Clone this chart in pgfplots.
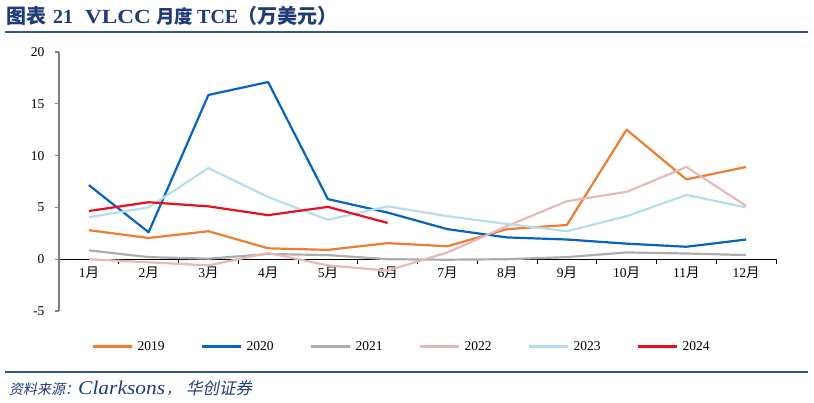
\documentclass[border=0pt]{standalone}
\usepackage{fontspec}
\usepackage{pgfplots}
\usepackage{graphicx}
\pgfplotsset{compat=1.18}
\setmainfont{Liberation Serif}
\newfontfamily\cjk{Noto Sans CJK SC}
\newfontfamily\cjkit{Noto Sans CJK SC}[FakeSlant=0.2]

\definecolor{c2019}{HTML}{ED7D31}
\definecolor{c2020}{HTML}{0563C1}
\definecolor{c2021}{HTML}{ADADAD}
\definecolor{c2022}{HTML}{E6B9B8}
\definecolor{c2023}{HTML}{B7DEE8}
\definecolor{c2024}{HTML}{E8101E}
\definecolor{navy}{HTML}{1F3C78}
\definecolor{rule}{HTML}{2F5597}
\definecolor{yaxis}{HTML}{7F7F7F}

\newcommand{\yue}{{\cjk 月}}

\begin{document}
\begin{tikzpicture}
\path[use as bounding box] (0,0) rectangle (814pt,403pt);

% title, pieces placed as in the reference
\begin{scope}[every node/.style={anchor=base west, inner sep=0, text=navy}]
\node[font=\fontsize{20}{22}\selectfont\bfseries\cjk] at (6pt,379.5pt) {图表};
\node[font=\fontsize{20}{22}\selectfont\bfseries] at (53pt,379.5pt) {21};
\node[font=\fontsize{20}{22}\selectfont\bfseries] at (85pt,379.5pt) {\scalebox{1.16}[1]{VLCC}};
\node[font=\fontsize{18.5}{22}\selectfont\bfseries\cjk] at (156pt,379.5pt) {月度};
\node[font=\fontsize{20}{22}\selectfont\bfseries] at (197pt,379.5pt) {TCE};
\node[font=\fontsize{20}{22}\selectfont\bfseries\cjk] at (237pt,379.5pt) {（万美元）};
% source
\node[font=\fontsize{14}{16}\selectfont\cjkit] at (9pt,8pt) {资料来源：};
\node[font=\fontsize{19.5}{21}\selectfont\itshape] at (78pt,8pt) {\scalebox{1.1}[1]{Clarksons}};
\node[font=\fontsize{14}{16}\selectfont\cjkit] at (166pt,8pt) {，};
\node[font=\fontsize{16.5}{18}\selectfont\cjkit] at (186pt,8pt) {华创证券};
\end{scope}
\draw[rule, line width=1.6pt] (5pt,371pt) -- (808pt,371pt);
\draw[rule, line width=1.6pt] (5pt,31pt) -- (808pt,31pt);

\begin{axis}[
  at={(59pt,92pt)}, anchor=south west,
  scale only axis, width=717pt, height=259pt,
  xmin=0.5, xmax=12.5, ymin=-5, ymax=20,
  axis x line*=middle, axis y line*=left,
  y axis line style={yaxis, line width=1.2pt},
  x axis line style={black, line width=0.8pt},
  hide obscured x ticks=false, hide obscured y ticks=false,
  xtick={1,...,12},
  xticklabels={1\yue,2\yue,3\yue,4\yue,5\yue,6\yue,7\yue,8\yue,9\yue,10\yue,11\yue,12\yue},
  minor xtick={1.5,2.5,...,12.5},
  xtick style={draw=none},
  minor x tick style={draw=black, line width=0.8pt},
  tick align=outside, minor tick length=5pt, major tick length=4pt,
  ytick={-5,0,5,10,15,20},
  yticklabels={-5,0,5,10,15,20},
  ytick style={draw=yaxis, line width=1.2pt},
  tick label style={font=\fontsize{13.5}{15}\selectfont},
  yticklabel style={xshift=-7pt},
  legend columns=6,
  legend style={draw=none, fill=none, at={(0.478,-0.139)}, anchor=center,
    font=\fontsize{13.5}{15}\selectfont,
    /tikz/every even column/.append style={column sep=34pt},
    /tikz/every odd column/.append style={column sep=2pt}},
  legend image code/.code={\draw[#1, line width=3pt] (0pt,0pt) -- (39pt,0pt);},
  every axis plot/.append style={line width=2.2pt, line join=round, mark=none},
]
\addplot[c2019] coordinates {(1,2.8) (2,2.05) (3,2.7) (4,1.05) (5,0.9) (6,1.55) (7,1.25) (8,2.9) (9,3.3) (10,12.5) (11,7.7) (12,8.9)};
\addplot[c2020] coordinates {(1,7.15) (2,2.6) (3,15.85) (4,17.1) (5,5.8) (6,4.5) (7,2.9) (8,2.1) (9,1.9) (10,1.5) (11,1.2) (12,1.9)};
\addplot[c2021] coordinates {(1,0.85) (2,0.2) (3,0.05) (4,0.5) (5,0.4) (6,0.0) (7,-0.05) (8,0.0) (9,0.2) (10,0.65) (11,0.55) (12,0.4)};
\addplot[c2022] coordinates {(1,0.0) (2,-0.3) (3,-0.6) (4,0.6) (5,-0.6) (6,-1.1) (7,0.65) (8,3.2) (9,5.6) (10,6.5) (11,8.9) (12,5.15)};
\addplot[c2023] coordinates {(1,4.05) (2,5.0) (3,8.8) (4,6.0) (5,3.8) (6,5.1) (7,4.15) (8,3.4) (9,2.7) (10,4.15) (11,6.2) (12,5.0)};
\addplot[c2024] coordinates {(1,4.65) (2,5.5) (3,5.1) (4,4.25) (5,5.05) (6,3.5)};
\legend{2019,2020,2021,2022,2023,2024}
\end{axis}
\end{tikzpicture}
\end{document}
